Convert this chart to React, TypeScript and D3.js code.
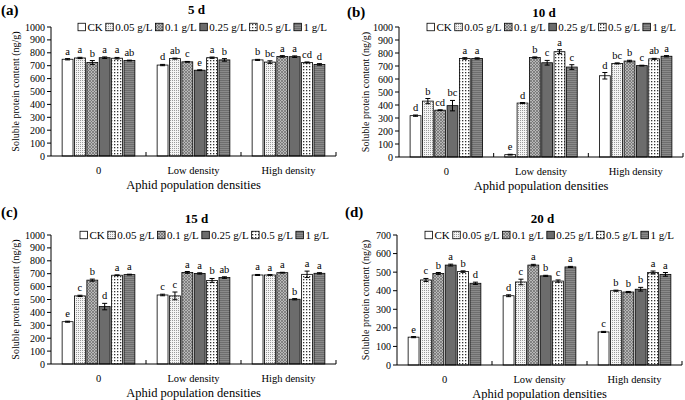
import React from 'react'
import * as d3 from 'd3'

const FONT = '"Liberation Serif", "Times New Roman", serif'

const groups = ['0', 'Low density', 'High density']
const treatments = ['CK', '0.05 g/L', '0.1 g/L', '0.25 g/L', '0.5 g/L', '1 g/L']

// 5 d
const values5d = [
  [750, 760, 725, 762, 758, 740],
  [705, 755, 730, 665, 762, 745],
  [745, 728, 772, 770, 725, 710]
]
const errors5d = [
  [5, 5, 15, 6, 6, 3],
  [5, 4, 3, 3, 5, 10],
  [4, 10, 6, 6, 4, 6]
]
const letters5d = [
  ['a', 'a', 'b', 'a', 'a', 'ab'],
  ['d', 'ab', 'c', 'e', 'a', 'b'],
  ['b', 'bc', 'a', 'a', 'cd', 'd']
]

// 10 d
const values10d = [
  [318, 430, 360, 395, 758, 758],
  [18, 415, 765, 725, 810, 692],
  [625, 720, 738, 703, 755, 775]
]
const errors10d = [
  [5, 20, 3, 40, 6, 5],
  [3, 4, 5, 18, 15, 18],
  [25, 4, 6, 3, 4, 5]
]
const letters10d = [
  ['d', 'b', 'cd', 'bc', 'a', 'a'],
  ['e', 'd', 'b', 'c', 'a', 'c'],
  ['d', 'bc', 'b', 'c', 'ab', 'a']
]

// 15 d
const values15d = [
  [328, 528, 650, 445, 688, 693],
  [535, 528, 710, 702, 648, 670],
  [690, 690, 708, 502, 695, 703]
]
const errors15d = [
  [4, 5, 8, 25, 3, 3],
  [6, 30, 7, 5, 15, 6],
  [4, 3, 3, 5, 25, 5]
]
const letters15d = [
  ['e', 'c', 'b', 'd', 'a', 'a'],
  ['c', 'c', 'a', 'a', 'b', 'ab'],
  ['a', 'a', 'a', 'b', 'a', 'a']
]

// 20 d
const values20d = [
  [150, 458, 493, 538, 503, 440],
  [373, 447, 538, 480, 452, 528],
  [178, 400, 393, 408, 498, 488]
]
const errors20d = [
  [3, 8, 5, 5, 4, 6],
  [5, 15, 4, 3, 6, 3],
  [3, 3, 3, 10, 8, 10]
]
const letters20d = [
  ['e', 'c', 'b', 'a', 'b', 'd'],
  ['d', 'c', 'a', 'b', 'c', 'a'],
  ['c', 'b', 'b', 'b', 'a', 'a']
]

const fills = ['#ffffff', 'url(#p005)', 'url(#p01)', '#6c6c6c', 'url(#p05)', 'url(#p1)']

// rough Times widths, em units
const charW: Record<string, number> = {
  '0': 0.5, '1': 0.5, '2': 0.5, '5': 0.5, '.': 0.25, ' ': 0.25, g: 0.5, '/': 0.278, L: 0.611, C: 0.667, K: 0.722
}
const textW = (s: string, fs: number) => s.split('').reduce((a, c) => a + (charW[c] ?? 0.5), 0) * fs

type PanelProps = {
  tag: string
  title: string
  left: number
  right: number
  top: number
  bottom: number
  max: number
  values: number[][]
  errors: number[][]
  letters: string[][]
  tagX: number
  tagY: number
  titleY: number
  yLabelX: number
  legendX: number
}

function Panel(p: PanelProps) {
  const xG = d3.scaleBand<string>().domain(groups).range([p.left, p.right])
  const xT = d3.scaleBand<string>().domain(treatments).range([0, xG.bandwidth()])
    .paddingInner(0.12).paddingOuter(0.9)
  const y = d3.scaleLinear().domain([0, p.max]).range([p.bottom, p.top])
  const ticks = d3.range(0, p.max + 1, 100)
  const cx = (p.left + p.right) / 2

  const fs = 11
  let lx = p.legendX
  const legend = treatments.map((t, i) => {
    const item = { t, i, x: lx }
    lx += 7.5 + 2 + textW(t, fs) + 3
    return item
  })

  return (
    <g fontFamily={FONT}>
      <text x={p.tagX} y={p.tagY} fontSize={15} fontWeight="bold">{p.tag}</text>
      <text x={cx + 3} y={p.titleY} fontSize={13} fontWeight="bold" textAnchor="middle">{p.title}</text>

      {/* bars */}
      {groups.map((g, gi) => treatments.map((t, ti) => {
        const v = p.values[gi][ti]
        const e = p.errors[gi][ti]
        const bx = (xG(g) ?? 0) + (xT(t) ?? 0)
        const bw = xT.bandwidth()
        const mx = bx + bw / 2
        return (
          <g key={g + t}>
            <rect x={bx} y={y(v)} width={bw} height={p.bottom - y(v)}
              fill={fills[ti]} stroke="#000" strokeWidth={0.8} />
            <line x1={mx} x2={mx} y1={y(v - e)} y2={y(v + e)} stroke="#000" strokeWidth={1} />
            <line x1={mx - 2.5} x2={mx + 2.5} y1={y(v + e)} y2={y(v + e)} stroke="#000" strokeWidth={1} />
            <line x1={mx - 2.5} x2={mx + 2.5} y1={y(v - e)} y2={y(v - e)} stroke="#000" strokeWidth={1} />
            <text x={mx} y={y(v + e) - 4} fontSize={10.5} textAnchor="middle">{p.letters[gi][ti]}</text>
          </g>
        )
      }))}

      {/* y axis */}
      <line x1={p.left} x2={p.left} y1={p.top} y2={p.bottom} stroke="#000" />
      {ticks.map(t => (
        <g key={t}>
          <line x1={p.left - 4} x2={p.left} y1={y(t)} y2={y(t)} stroke="#000" />
          <text x={p.left - 6} y={y(t) + 3.5} fontSize={10} textAnchor="end">{t}</text>
        </g>
      ))}
      <text transform={`translate(${p.yLabelX},${(p.top + p.bottom) / 2}) rotate(-90)`}
        fontSize={10} textAnchor="middle" dy="0.35em">Soluble protein content (ng/g)</text>

      {/* x axis */}
      <line x1={p.left} x2={p.right} y1={p.bottom} y2={p.bottom} stroke="#000" />
      {groups.map(g => (
        <g key={g}>
          <line x1={(xG(g) ?? 0) + xG.bandwidth()} x2={(xG(g) ?? 0) + xG.bandwidth()}
            y1={p.bottom} y2={p.bottom - 4} stroke="#000" />
          <text x={(xG(g) ?? 0) + xG.bandwidth() / 2} y={p.bottom + 18} fontSize={10.5} textAnchor="middle">{g}</text>
        </g>
      ))}
      <text x={cx} y={p.bottom + 33} fontSize={12.5} textAnchor="middle">Aphid population densities</text>

      {/* legend */}
      {legend.map(l => (
        <g key={l.t}>
          <rect x={l.x} y={p.top - 3.75} width={7.5} height={7.5} fill={fills[l.i]} stroke="#000" strokeWidth={0.8} />
          <text x={l.x + 9.5} y={p.top + 3.8} fontSize={fs}>{l.t}</text>
        </g>
      ))}
    </g>
  )
}

export default function App() {
  return (
    <svg width={685} height={400} style={{ position: 'absolute', left: 0, top: 0, background: '#fff' }}>
      <defs>
        <pattern id="p005" width={2} height={2} patternUnits="userSpaceOnUse">
          <rect width={2} height={2} fill="#f4f4f4" />
          <rect width={1} height={1} fill="#9a9a9a" />
        </pattern>
        <pattern id="p01" width={3} height={3} patternUnits="userSpaceOnUse">
          <rect width={3} height={3} fill="#b8b8b8" />
          <path d="M0,3 L3,0 M0,0 L3,3" stroke="#6a6a6a" strokeWidth={0.7} />
        </pattern>
        <pattern id="p05" width={3} height={3} patternUnits="userSpaceOnUse">
          <rect width={3} height={3} fill="#ffffff" />
          <rect width={1.3} height={1.3} fill="#333" />
        </pattern>
        <pattern id="p1" width={2} height={2} patternUnits="userSpaceOnUse">
          <rect width={2} height={2} fill="#8a8a8a" />
          <rect width={2} height={1} fill="#6e6e6e" />
        </pattern>
      </defs>
      <rect width={685} height={400} fill="#fff" />
      <Panel tag="(a)" title="5 d" left={51} right={336} top={27} bottom={156} max={1000}
        values={values5d} errors={errors5d} letters={letters5d}
        tagX={1} tagY={15} titleY={14} yLabelX={15} legendX={78} />
      <Panel tag="(b)" title="10 d" left={399} right={683} top={27} bottom={157} max={1000}
        values={values10d} errors={errors10d} letters={letters10d}
        tagX={347} tagY={17} titleY={17} yLabelX={365} legendX={427} />
      <Panel tag="(c)" title="15 d" left={51} right={336} top={235} bottom={364} max={1000}
        values={values15d} errors={errors15d} letters={letters15d}
        tagX={1} tagY={217} titleY={223} yLabelX={15} legendX={80} />
      <Panel tag="(d)" title="20 d" left={397} right={682} top={235} bottom={365} max={700}
        values={values20d} errors={errors20d} letters={letters20d}
        tagX={345} tagY={217} titleY={223} yLabelX={365} legendX={425} />
    </svg>
  )
}
